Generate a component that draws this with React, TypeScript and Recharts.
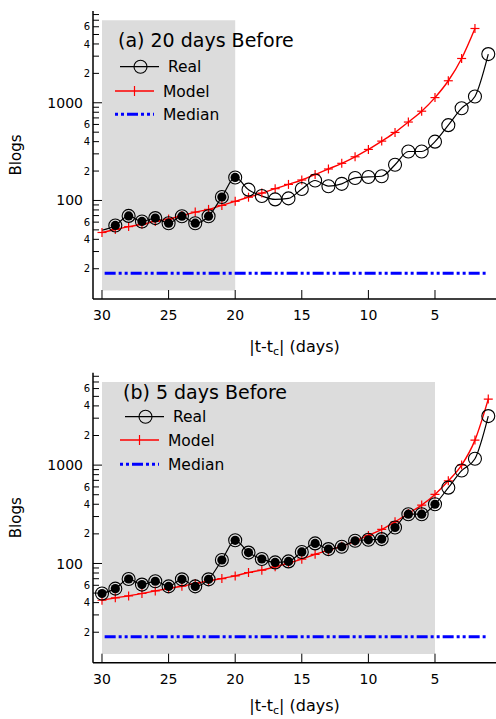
import React from 'react';
import { LineChart, Line, XAxis, YAxis, ReferenceArea, ReferenceLine, Label } from 'recharts';

const days = [30, 29, 28, 27, 26, 25, 24, 23, 22, 21, 20, 19, 18, 17, 16, 15, 14, 13, 12, 11, 10, 9, 8, 7, 6, 5, 4, 3, 2, 1];
const realBlogs = [49.5, 55.5, 69.5, 61, 66, 58.5, 69, 58.5, 69, 108.5, 172, 129, 111, 102.5, 105, 131, 160, 140, 148, 170, 174, 177, 232, 317, 317, 400, 590, 880, 1160, 3150];
// model fitted with 20 days of data (ends at day 2)
const model20Before = [47, 50.5, 54, 57, 61, 64.5, 70, 76, 81, 89, 98, 108, 119, 132, 146, 162, 184, 210, 240, 280, 333, 405, 497, 635, 820, 1130, 1680, 2840, 5760];
// model fitted with 5 days of data
const model5Before = [42.3, 44.7, 46.8, 49.5, 52.6, 55.7, 58.7, 62.6, 66.5, 70.3, 74.8, 81, 85.5, 92.5, 101, 110.6, 124, 136.5, 150, 169, 193, 222, 265, 323, 392, 503, 692, 1000, 1795, 4690];
const medianBlogs = 18;

const xTicks = [30, 25, 20, 15, 10, 5];
const yTicks = [20, 30, 40, 50, 60, 70, 80, 90, 100, 200, 300, 400, 500, 600, 700, 800, 900, 1000, 2000, 3000, 4000, 5000, 6000, 7000, 8000];
const yMajor = [100, 1000];
const yMinorLabelled = [20, 40, 60, 200, 400, 600, 2000, 4000, 6000];

const FONT = 'DejaVu Sans';
const X_DOMAIN = [0.42, 30.675];
const Y_DOMAIN = [9.8, 8700];

const panels = [
  {
    id: 'a',
    title: '(a) 20 days Before',
    model: model20Before,
    fitFrom: 20,
    skipDay: 30,
    top: 0,
    height: 360,
    marginTop: 11,
    xAxisHeight: 61,
    labelDy: 53,
    lg: { titleX: 118, titleY: 47, realX: 120, realY: 66.7, modelX: 115, modelY: 91, medX: 115, medY: 114.3 },
  },
  {
    id: 'b',
    title: '(b) 5 days Before',
    model: model5Before,
    fitFrom: 5,
    skipDay: -1,
    top: 360,
    height: 359,
    marginTop: 12.7,
    xAxisHeight: 56.3,
    labelDy: 48.5,
    lg: { titleX: 123, titleY: 38.5, realX: 125, realY: 56.7, modelX: 120, modelY: 80, medX: 120, medY: 104.3 },
  },
];

const LeftTick = ({ x, y, payload }: any) => {
  const v = payload.value;
  const major = yMajor.includes(v);
  const lead = String(v)[0];
  return (
    <g>
      <line x1={x} x2={x + (major ? 9 : 6)} y1={y} y2={y} stroke="#000" strokeWidth={1} />
      {major && (
        <text x={x - 10} y={y} dy="0.36em" textAnchor="end" fontSize={14} fontFamily={FONT} fill="#000">{v}</text>
      )}
      {yMinorLabelled.includes(v) && (
        <text x={x - 3} y={y} dy="0.36em" textAnchor="end" fontSize={10} fontFamily={FONT} fill="#000">{lead}</text>
      )}
    </g>
  );
};

const RightTick = ({ x, y, payload }: any) => {
  const major = yMajor.includes(payload.value);
  return <line x1={x} x2={x - (major ? 9 : 6)} y1={y} y2={y} stroke="#000" strokeWidth={1} />;
};

const BottomTick = ({ x, y, payload }: any) => (
  <g>
    <line x1={x} x2={x} y1={y} y2={y - 9} stroke="#000" strokeWidth={1} />
    <text x={x} y={y + 21} textAnchor="middle" fontSize={14} fontFamily={FONT} fill="#000">{payload.value}</text>
  </g>
);

const TopTick = ({ x, y }: any) => <line x1={x} x2={x} y1={y} y2={y + 9} stroke="#000" strokeWidth={1} />;

const RealDot = (props: any) => {
  const { cx, cy, payload, index, fitFrom, skipDay } = props;
  if (cx == null || cy == null || payload.day === skipDay) return <g key={`r${index}`} />;
  return (
    <g key={`r${index}`}>
      <circle cx={cx} cy={cy} r={6.5} fill="none" stroke="#000" strokeWidth={1.1} />
      {payload.day >= fitFrom && <circle cx={cx} cy={cy} r={4.6} fill="#000" />}
    </g>
  );
};

const PlusDot = (props: any) => {
  const { cx, cy, index, value } = props;
  if (cx == null || cy == null || value == null) return <g key={`m${index}`} />;
  return (
    <g key={`m${index}`}>
      <line x1={cx - 4.5} x2={cx + 4.5} y1={cy} y2={cy} stroke="#ff0000" strokeWidth={1.2} />
      <line x1={cx} x2={cx} y1={cy - 4.5} y2={cy + 4.5} stroke="#ff0000" strokeWidth={1.2} />
    </g>
  );
};

const MEDIAN_DASH = '11 3 3 3 3 3';

const Panel = ({ p }: { p: (typeof panels)[number] }) => {
  const data = days.map((d, i) => ({ day: d, real: realBlogs[i], model: p.model[i] ?? null }));
  const lg = p.lg;
  return (
    <div style={{ position: 'absolute', left: 0, top: p.top, width: 496, height: p.height }}>
      <LineChart width={496} height={p.height} data={data} margin={{ top: p.marginTop, right: 0, bottom: 0, left: 0 }}>
        <XAxis
          dataKey="day"
          type="number"
          reversed
          domain={X_DOMAIN}
          allowDataOverflow
          ticks={xTicks}
          interval={0}
          height={p.xAxisHeight}
          tickLine={false}
          tickSize={0}
          tickMargin={0}
          tick={<BottomTick />}
          axisLine={{ stroke: '#000', strokeWidth: 1.5 }}
        >
          <Label
            content={({ viewBox }: any) => (
              <text x={viewBox.x + viewBox.width / 2} y={viewBox.y + p.labelDy} textAnchor="middle" fontSize={16} fontFamily={FONT} fill="#000">
                |t-t<tspan fontSize={11} dy={3}>c</tspan><tspan dy={-3}>| (days)</tspan>
              </text>
            )}
          />
        </XAxis>
        <XAxis
          xAxisId="top"
          orientation="top"
          dataKey="day"
          type="number"
          reversed
          domain={X_DOMAIN}
          allowDataOverflow
          ticks={xTicks}
          interval={0}
          height={0}
          tickLine={false}
          tickSize={0}
          tickMargin={0}
          tick={<TopTick />}
          axisLine={{ stroke: '#000', strokeWidth: 1.5 }}
        />
        <YAxis
          scale="log"
          domain={Y_DOMAIN}
          allowDataOverflow
          ticks={yTicks}
          interval={0}
          width={93}
          tickLine={false}
          tickSize={0}
          tickMargin={0}
          tick={<LeftTick />}
          axisLine={{ stroke: '#000', strokeWidth: 1.5 }}
        >
          <Label
            content={({ viewBox }: any) => {
              const cy = viewBox.y + viewBox.height / 2;
              return (
                <text x={16} y={cy} dy="0.36em" textAnchor="middle" transform={`rotate(-90, 16, ${cy})`} fontSize={15} fontFamily={FONT} fill="#000">
                  Blogs
                </text>
              );
            }}
          />
        </YAxis>
        <YAxis
          yAxisId="right"
          orientation="right"
          scale="log"
          domain={Y_DOMAIN}
          allowDataOverflow
          ticks={yTicks}
          interval={0}
          width={0}
          tickLine={false}
          tickSize={0}
          tickMargin={0}
          tick={<RightTick />}
          axisLine={false}
        />
        <ReferenceArea x1={30} x2={p.fitFrom} y1={12} y2={7000} fill="#dcdcdc" fillOpacity={1} stroke="none" />
        <ReferenceLine
          segment={[{ x: 29.8, y: medianBlogs }, { x: 1.2, y: medianBlogs }]}
          stroke="#0000ff"
          strokeWidth={3}
          strokeDasharray={MEDIAN_DASH}
        />
        <Line
          dataKey="model"
          type="monotone"
          stroke="#ff0000"
          strokeWidth={1.4}
          dot={(props: any) => <PlusDot {...props} />}
          activeDot={false}
          isAnimationActive={false}
        />
        <Line
          dataKey="real"
          type="monotone"
          stroke="#000"
          strokeWidth={1.2}
          dot={(props: any) => <RealDot {...props} fitFrom={p.fitFrom} skipDay={p.skipDay} />}
          activeDot={false}
          isAnimationActive={false}
        />
      </LineChart>
      <svg width={496} height={p.height} style={{ position: 'absolute', left: 0, top: 0, pointerEvents: 'none' }} fontFamily={FONT}>
        <text x={lg.titleX} y={lg.titleY} fontSize={19} fill="#000">{p.title}</text>
        <line x1={lg.realX} x2={lg.realX + 39} y1={lg.realY} y2={lg.realY} stroke="#000" strokeWidth={1.2} />
        <circle cx={lg.realX + 20.5} cy={lg.realY} r={6.5} fill="none" stroke="#000" strokeWidth={1.1} />
        <text x={lg.realX + 48} y={lg.realY + 5.5} fontSize={15.5} fill="#000">Real</text>
        <line x1={lg.modelX} x2={lg.modelX + 39} y1={lg.modelY} y2={lg.modelY} stroke="#ff0000" strokeWidth={1.4} />
        <line x1={lg.modelX + 19.5} x2={lg.modelX + 19.5} y1={lg.modelY - 5} y2={lg.modelY + 5} stroke="#ff0000" strokeWidth={1.2} />
        <text x={lg.modelX + 48} y={lg.modelY + 5.5} fontSize={15.5} fill="#000">Model</text>
        <line x1={lg.medX} x2={lg.medX + 39} y1={lg.medY} y2={lg.medY} stroke="#0000ff" strokeWidth={3} strokeDasharray="3 3 3 3 11 3" />
        <text x={lg.medX + 48} y={lg.medY + 5.5} fontSize={15.5} fill="#000">Median</text>
      </svg>
    </div>
  );
}

export default function App() {
  return (
    <div style={{ position: 'absolute', left: 0, top: 0, width: 496, height: 719, background: '#fff', overflow: 'hidden', fontFamily: FONT }}>
      {panels.map((p) => (
        <Panel key={p.id} p={p} />
      ))}
    </div>
  );
}
